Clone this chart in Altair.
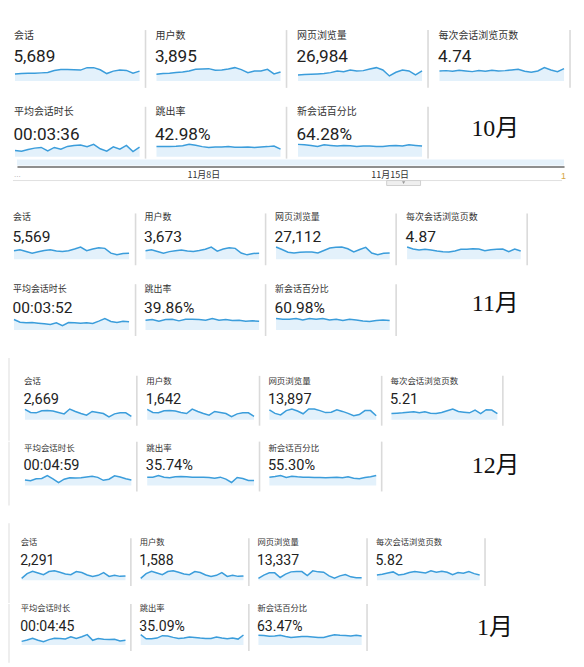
import altair as alt
import pandas as pd

# ---------------- data ----------------
LABELS = ["会话", "用户数", "网页浏览量", "每次会话浏览页数", "平均会话时长", "跳出率", "新会话百分比"]
MONTHS = ["10月", "11月", "12月", "1月"]

VAL_OCT = ["5,689", "3,895", "26,984", "4.74", "00:03:36", "42.98%", "64.28%"]
VAL_NOV = ["5,569", "3,673", "27,112", "4.87", "00:03:52", "39.86%", "60.98%"]
VAL_DEC = ["2,669", "1,642", "13,897", "5.21", "00:04:59", "35.74%", "55.30%"]
VAL_JAN = ["2,291", "1,588", "13,337", "5.82", "00:04:45", "35.09%", "63.47%"]

# October daily series (sparklines)
OCT_SESS = [120, 126, 132, 132, 138, 144, 180, 198, 198, 192, 186, 228, 228, 192, 126, 168, 186, 180, 132, 168]
OCT_USER = [80, 88, 92, 100, 108, 120, 140, 144, 148, 128, 132, 144, 160, 136, 100, 120, 120, 140, 84, 108]
OCT_PV = [396, 418, 440, 462, 484, 550, 660, 616, 726, 660, 682, 792, 880, 726, 330, 572, 726, 660, 396, 660]
OCT_PPS = [4.2, 4.34, 4.06, 4.48, 4.2, 3.92, 4.34, 4.06, 4.48, 4.2, 4.34, 4.62, 4.9, 4.06, 3.64, 4.2, 5.6, 4.62, 3.92, 5.18]
OCT_DUR = [126, 112, 147, 175, 189, 119, 189, 154, 210, 231, 238, 203, 252, 161, 112, 203, 154, 231, 105, 196]
OCT_BOUNCE = [41.9, 41.9, 41.9, 43.2, 45.9, 51.3, 47.3, 41.9, 37.8, 40.5, 40.5, 41.9, 39.2, 39.2, 40.5, 37.8, 40.5, 41.9, 44.6, 31.1]
OCT_NEW = [68.4, 66.5, 62.7, 57.0, 66.5, 62.7, 58.9, 62.7, 60.8, 57.0, 58.9, 58.9, 57.0, 57.0, 60.8, 62.7, 58.9, 66.5, 62.7, 58.9]

# November
NOV_SESS = [150, 168, 138, 108, 132, 156, 168, 144, 138, 150, 180, 216, 150, 180, 204, 192, 108, 78, 102, 108]
NOV_USER = [100, 112, 92, 72, 90, 100, 108, 96, 92, 102, 118, 144, 96, 120, 136, 128, 74, 52, 68, 72]
NOV_PV = [1050, 840, 600, 540, 600, 630, 630, 540, 750, 960, 1020, 1050, 900, 630, 840, 1020, 540, 390, 510, 540]
NOV_PPS = [5.18, 4.34, 3.92, 4.2, 3.92, 3.5, 3.22, 3.08, 3.5, 4.2, 4.2, 4.48, 4.34, 3.64, 4.06, 4.2, 4.34, 3.22, 4.34, 3.5]
NOV_DUR = [256, 192, 176, 184, 168, 152, 136, 176, 104, 184, 176, 168, 176, 160, 216, 280, 208, 184, 216, 200]
NOV_BOUNCE = [36.0, 38.4, 32.4, 38.4, 39.6, 33.6, 39.6, 39.6, 38.4, 36.0, 42.0, 36.0, 38.4, 34.8, 36.0, 32.4, 33.6, 32.4]
NOV_NEW = [61.2, 57.6, 57.6, 61.2, 54.0, 61.2, 57.6, 61.2, 54.0, 57.6, 50.4, 57.6, 54.0, 48.6, 45.0, 50.4, 54.0, 50.4]

# December
DEC_SESS = [90, 63, 60, 78, 81, 75, 63, 51, 93, 72, 54, 39, 72, 63, 54, 24, 51, 60, 60, 30]
DEC_USER = [60, 42, 40, 52, 54, 50, 42, 36, 62, 48, 36, 26, 48, 42, 36, 18, 34, 40, 40, 20]
DEC_PV = [450, 288, 216, 414, 486, 396, 270, 486, 486, 414, 324, 342, 450, 378, 288, 180, 234, 414, 414, 180]
DEC_PPS = [3.24, 3.42, 3.6, 3.96, 4.14, 3.6, 4.14, 3.42, 3.24, 3.78, 4.68, 5.58, 4.32, 3.96, 3.6, 5.04, 3.24, 5.22, 5.04, 3.24]
DEC_DUR = [180, 156, 216, 228, 324, 216, 96, 204, 252, 240, 252, 276, 300, 264, 168, 204, 312, 276, 216, 180]
DEC_BOUNCE = [35.0, 35.0, 42.0, 35.0, 32.2, 36.4, 37.8, 36.4, 35.0, 35.0, 35.0, 33.6, 30.8, 35.0, 26.6, 12.6, 33.6, 29.4, 21.0, 21.0]
DEC_NEW = [55.0, 59.4, 66.0, 52.8, 61.6, 57.2, 55.0, 55.0, 52.8, 52.8, 50.6, 52.8, 55.0, 50.6, 57.2, 48.4, 44.0, 52.8, 57.2, 66.0]

# January
JAN_SESS = [15, 57, 78, 63, 48, 75, 81, 69, 54, 48, 75, 66, 45, 33, 42, 66, 33, 42, 33, 36]
JAN_USER = [10, 38, 52, 42, 32, 50, 54, 46, 36, 32, 50, 44, 30, 22, 28, 44, 22, 28, 22, 24]
JAN_PV = [80, 240, 352, 352, 128, 288, 400, 416, 416, 224, 448, 400, 384, 208, 96, 208, 272, 160, 112, 112]
JAN_PPS = [3.0, 3.4, 4.2, 4.8, 3.0, 3.4, 4.4, 5.0, 4.6, 4.2, 5.4, 4.6, 5.2, 4.6, 3.2, 4.4, 4.0, 5.0, 3.8, 3.0]
JAN_DUR = [120, 168, 228, 156, 108, 180, 228, 216, 204, 276, 216, 276, 348, 156, 216, 192, 180, 192, 132, 156]
JAN_BOUNCE = [39.0, 23.4, 23.4, 26.0, 35.1, 33.8, 28.6, 24.7, 26.0, 29.9, 28.6, 26.0, 24.7, 24.7, 29.9, 26.0, 23.4, 26.0, 22.1, 37.7]
JAN_NEW = [63.0, 60.9, 56.7, 58.8, 63.0, 54.6, 48.3, 52.5, 54.6, 54.6, 52.5, 48.3, 48.3, 58.8, 67.2, 63.0, 60.9, 58.8, 63.0, 58.8]

SERIES = [
    [OCT_SESS, OCT_USER, OCT_PV, OCT_PPS, OCT_DUR, OCT_BOUNCE, OCT_NEW],
    [NOV_SESS, NOV_USER, NOV_PV, NOV_PPS, NOV_DUR, NOV_BOUNCE, NOV_NEW],
    [DEC_SESS, DEC_USER, DEC_PV, DEC_PPS, DEC_DUR, DEC_BOUNCE, DEC_NEW],
    [JAN_SESS, JAN_USER, JAN_PV, JAN_PPS, JAN_DUR, JAN_BOUNCE, JAN_NEW],
]
VALUES = [VAL_OCT, VAL_NOV, VAL_DEC, VAL_JAN]

# overview timeline (November, days)
TL_DAYS = [1.0, 21.55]
TL_TICKS = [8, 15]

# ---------------- style / layout ----------------
LINE = "#3b9ddb"
FILL = "#e3f1fb"
DIV = "#dadada"
STRIP = "#eeeeee"
CJK = "Noto Sans CJK SC"
NUM = "Roboto"
SERIF = "Liberation Serif, Noto Sans CJK SC, serif"
M = 8          # page margin
RIGHT = M + 568

BLOCKS = [
    dict(div=[147, 288.5, 430, 572], lab=[14, 156, 297.5, 439], gap=7, mx=496,
         lab_fs=10, num_fs=17.2, strip=None,
         rows=[dict(top=8, h=97, d0=29, d1=87, ly=35, ny=61, sb=80, band=13.3),
               dict(top=105, h=52, d0=105, d1=157, ly=110, ny=138, sb=155, band=12.3, my=127)]),
    dict(div=[137, 267.5, 398, 529], lab=[13, 145, 275.5, 406.5], gap=7.5, mx=496,
         lab_fs=9, num_fs=15.6, strip=None,
         rows=[dict(top=190, h=91, d0=211, d1=263, ly=215, ny=239.5, sb=257, band=12.3),
               dict(top=281, h=74, d0=281, d1=333, ly=286, ny=310, sb=327, band=11.5, my=301)]),
    dict(div=[138.3, 260.7, 382.7, 504.3], lab=[24, 146, 268, 390.5], gap=6.5, mx=496,
         lab_fs=8.5, num_fs=14.6, strip=(355, 502),
         rows=[dict(top=355, h=83, d0=373, d1=423, ly=378, ny=401, sb=417, band=10.7),
               dict(top=438, h=82, d0=438, d1=488, ly=444, ny=466.5, sb=482, band=10, my=462)]),
    dict(div=[132.3, 250, 368.3, 486], lab=[20.7, 139.5, 257.3, 375.5], gap=6.4, mx=495,
         lab_fs=8.3, num_fs=14.1, strip=(520, 659),
         rows=[dict(top=520, h=80, d0=535, d1=583, ly=540, ny=562, sb=577, band=9.3),
               dict(top=600, h=59, d0=600, d1=647, ly=605, ny=626.7, sb=641, band=10.3, my=624)]),
]
TL_TOP, TL_H = 157, 33


def one(**kw):
    return alt.Data(values=[kw])


def tile(xl, xr, row, label, value, series, lab_x, sp0, sp1, lab_fs, num_fs, strip):
    w = xr - xl
    top = row["top"]
    n = len(series)
    df = pd.DataFrame({"i": list(range(n)), "v": series})
    xs = alt.X("i:Q", axis=None,
               scale=alt.Scale(domain=[0, n - 1], range=[sp0 - xl, sp1 - xl], nice=False, zero=False))
    ys = alt.Y("v:Q", axis=None,
               scale=alt.Scale(domain=[0, max(series)],
                               range=[row["sb"] - top, row["sb"] - top - row["band"]],
                               nice=False, zero=True))
    layers = []
    if strip:
        y0 = max(strip[0], top) - top
        y1 = min(strip[1], top + row["h"]) - top
        if y1 > y0:
            layers.append(alt.Chart(one(k=1)).mark_rect(color=STRIP).encode(
                x=alt.value(0), x2=alt.value(2), y=alt.value(y0), y2=alt.value(y1)))
    layers.append(alt.Chart(df).mark_area(color=FILL).encode(x=xs, y=ys))
    layers.append(alt.Chart(df).mark_line(color=LINE, strokeWidth=1.5).encode(x=xs, y=ys))
    txt = one(label=label, value=value)
    layers.append(alt.Chart(txt).mark_text(align="left", baseline="middle", font=CJK,
                                           fontSize=lab_fs, color="#333333").encode(
        x=alt.value(lab_x - xl), y=alt.value(row["ly"] - top), text="label:N"))
    layers.append(alt.Chart(txt).mark_text(align="left", baseline="alphabetic", font=NUM,
                                           fontSize=num_fs, color="#222222").encode(
        x=alt.value(lab_x - xl - 0.5), y=alt.value(row["ny"] - top), text="value:N"))
    layers.append(alt.Chart(txt).mark_rule(color=DIV, strokeWidth=1.6).encode(
        x=alt.value(w - 1), y=alt.value(row["d0"] - top), y2=alt.value(row["d1"] - top)))
    return alt.layer(*layers).properties(width=w, height=row["h"])


def month_tile(xl, xr, row, month, mx):
    return alt.Chart(one(m=month)).mark_text(align="center", baseline="middle", font=SERIF,
                                             fontSize=24, color="#111111").encode(
        x=alt.value(mx - xl), y=alt.value(row["my"] - row["top"]), text="m:N"
    ).properties(width=xr - xl, height=row["h"])


def timeline():
    tl = pd.DataFrame({"start": [TL_DAYS[0]], "end": [TL_DAYS[1]]})
    band = alt.Chart(tl).mark_rect(color="#e6f2fb").encode(
        x=alt.X("start:Q", title=None,
                scale=alt.Scale(domain=TL_DAYS, range=[9, 558], nice=False, zero=False),
                axis=alt.Axis(values=TL_TICKS, labelExpr="'11月' + datum.value + '日'",
                              ticks=False, tickSize=0, grid=False, domainColor="#8f8f8f",
                              domainWidth=2, labelFontSize=9, labelColor="#333333",
                              labelFont=CJK, labelPadding=4, labelFlush=False,
                              labelOverlap=False, offset=-26)),
        x2="end:Q", y=alt.value(0), y2=alt.value(6))
    dots = alt.Chart(one(t="...")).mark_text(align="left", baseline="middle", fontSize=8,
                                             color="#aaaaaa").encode(
        x=alt.value(6), y=alt.value(15), text="t:N")
    cut = alt.Chart(one(t="1")).mark_text(align="left", baseline="middle", fontSize=9,
                                          color="#d6a43e").encode(
        x=alt.value(555), y=alt.value(16), text="t:N")
    base = alt.Chart(one(k=1)).mark_rule(color="#e0e0e0", strokeWidth=1).encode(
        x=alt.value(5), x2=alt.value(556), y=alt.value(21))
    tab = alt.Chart(one(k=1)).mark_rect(fill="#efefef", stroke="#d0d0d0", strokeWidth=1).encode(
        x=alt.value(380), x2=alt.value(414), y=alt.value(21), y2=alt.value(26))
    arrow = alt.Chart(one(k=1)).mark_point(shape="triangle-down", filled=True, size=10,
                                           color="#777777").encode(
        x=alt.value(397), y=alt.value(23))
    return alt.layer(band, dots, cut, base, tab, arrow).properties(width=568, height=TL_H)


sections = []
for b, B in enumerate(BLOCKS):
    edges = [M] + B["div"]
    for r, row in enumerate(B["rows"]):
        metrics = [0, 1, 2, 3] if r == 0 else [4, 5, 6]
        tiles = []
        for k, m in enumerate(metrics):
            xl, xr = edges[k], edges[k + 1]
            lab_x = B["lab"][k]
            tiles.append(tile(xl, xr, row, LABELS[m], VALUES[b][m], SERIES[b][m],
                              lab_x, lab_x + 1, xr - B["gap"], B["lab_fs"], B["num_fs"],
                              B["strip"] if k == 0 else None))
        if r == 1:
            tiles.append(month_tile(edges[3], RIGHT, row, MONTHS[b], B["mx"]))
        sections.append(alt.hconcat(*tiles, spacing=0))
    if b == 0:
        sections.append(timeline())

chart = alt.vconcat(*sections, spacing=0).properties(
    padding=0, background="white"
).configure_view(stroke="transparent", strokeWidth=0)

chart.save("out.html", embed_options={"renderer": "svg", "actions": False})
